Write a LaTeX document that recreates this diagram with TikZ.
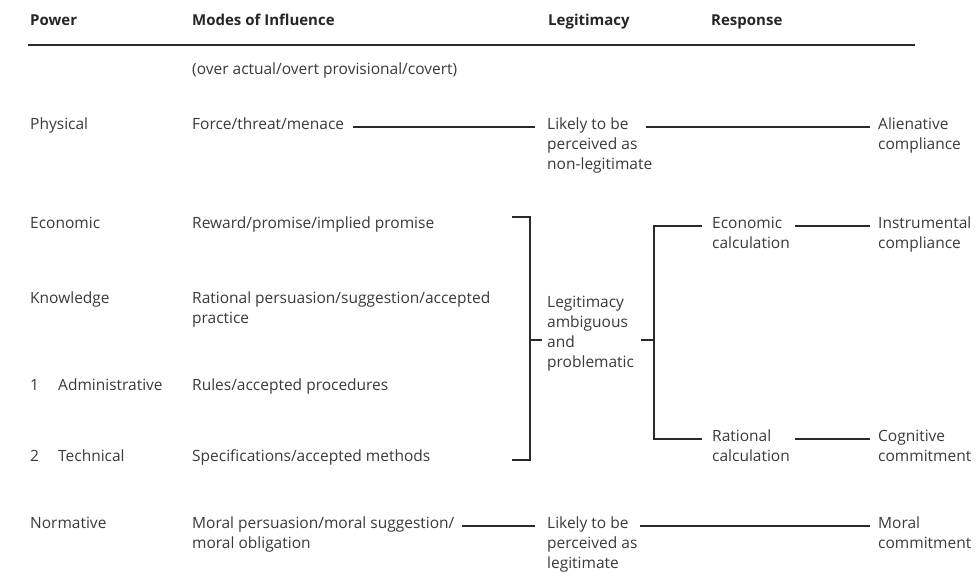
\documentclass[tikz,border=0pt]{standalone}
\usepackage{fontspec}
\setmainfont{Open Sans}
\definecolor{txt}{HTML}{3A3A3A}
\definecolor{hd}{HTML}{262626}
\definecolor{ln}{HTML}{2A2A2A}
% several lines, with the first line's baseline as the box baseline
\newcommand\lns[1]{\begin{tabular}[t]{@{}l@{}}#1\end{tabular}}
\begin{document}
\begin{tikzpicture}[x=1pt,y=-1pt,
  lbl/.style={anchor=mid west, inner sep=0pt, text=txt,
    font=\fontsize{15.5}{20}\selectfont},
  hdr/.style={lbl, text=hd, font=\fontsize{15}{20}\selectfont\bfseries},
  link/.style={draw=ln, line width=1.1pt},
  rulestyle/.style={draw=ln, line width=1.2pt},
]
\useasboundingbox[fill=white] (0,0) rectangle (980,575);

% column heads
\node[hdr] (hpow) at (30,23) {Power};
\node[hdr] (hmod) at (192,23) {Modes of Influence};
\node[hdr] (hleg) at (548,23) {Legitimacy};
\node[hdr] (hres) at (711,23) {Response};
\draw[rulestyle] (28,45) -- (915,45);

\node[lbl] (over) at (192,72) {(over actual/overt provisional/covert)};

% physical power
\node[lbl] (phys)  at (30,127)  {Physical};
\node[lbl] (force) at (192,127) {Force/threat/menace};
\node[lbl] (leg1)  at (547,127) {\lns{Likely to be\\perceived as\\non-legitimate}};
\node[lbl] (alien) at (878,127) {\lns{Alienative\\compliance}};

% economic and knowledge power
\node[lbl] (econ)   at (30,226)  {Economic};
\node[lbl] (reward) at (192,226) {Reward/promise/implied promise};
\node[lbl] (know)   at (30,301)  {Knowledge};
\node[lbl] (ratp)   at (192,301) {\lns{Rational persuasion/suggestion/accepted\\practice}};
\node[lbl] (n1)     at (30,388)  {1};
\node[lbl] (admin)  at (58,388)  {Administrative};
\node[lbl] (rules)  at (192,388) {Rules/accepted procedures};
\node[lbl] (n2)     at (30,459)  {2};
\node[lbl] (tech)   at (58,459)  {Technical};
\node[lbl] (spec)   at (192,459) {Specifications/accepted methods};

\node[lbl] (amb)   at (547,305) {\lns{Legitimacy\\ambiguous\\and\\problematic}};
\node[lbl] (ecalc) at (712,226) {\lns{Economic\\calculation}};
\node[lbl] (instr) at (878,226) {\lns{Instrumental\\compliance}};
\node[lbl] (rcalc) at (712,439) {\lns{Rational\\calculation}};
\node[lbl] (cogn)  at (878,439) {\lns{Cognitive\\commitment}};

% normative power
\node[lbl] (norm)   at (30,526)  {Normative};
\node[lbl] (moral)  at (192,526) {\lns{Moral persuasion/moral suggestion/\\moral obligation}};
\node[lbl] (leg2)   at (547,526) {\lns{Likely to be\\perceived as\\legitimate}};
\node[lbl] (moralc) at (878,526) {\lns{Moral\\commitment}};

% connectors
\draw[link, shorten <=9pt, shorten >=12pt] (force.mid east) -- (leg1.mid west);
\draw[link, shorten >=8pt] ([xshift=99pt]leg1.mid west) -- (alien.mid west);

\draw[link, shorten <=7pt, shorten >=12pt] (moral.mid east) -- (leg2.mid west);
\draw[link, shorten >=8pt] ([xshift=93pt]leg2.mid west) -- (moralc.mid west);

% bracket gathering the middle group
\coordinate (lbt) at (530,217);
\coordinate (lbb) at (530,460);
\coordinate (lbm) at (530,340);
\draw[link] (512,217) -- (lbt) -- (lbb) -- (512,460);
\draw[link, shorten >=5pt] (lbm) -- (amb.west |- lbm);

% fork to the two kinds of calculation
\coordinate (rbm) at (654,340);
\coordinate (rbl) at (641,340);
\draw[link] (rbl) -- (rbm);
\draw[link, shorten <=10pt, shorten >=10pt]
  (ecalc.mid west) -- (ecalc.mid west -| rbm) -- (rcalc.mid west -| rbm) -- (rcalc.mid west);

\draw[link, shorten <=5pt, shorten >=8pt] (ecalc.mid east) -- (instr.mid west);
\draw[link, shorten <=5pt, shorten >=8pt] (rcalc.mid east) -- (cogn.mid west);
\end{tikzpicture}
\end{document}
